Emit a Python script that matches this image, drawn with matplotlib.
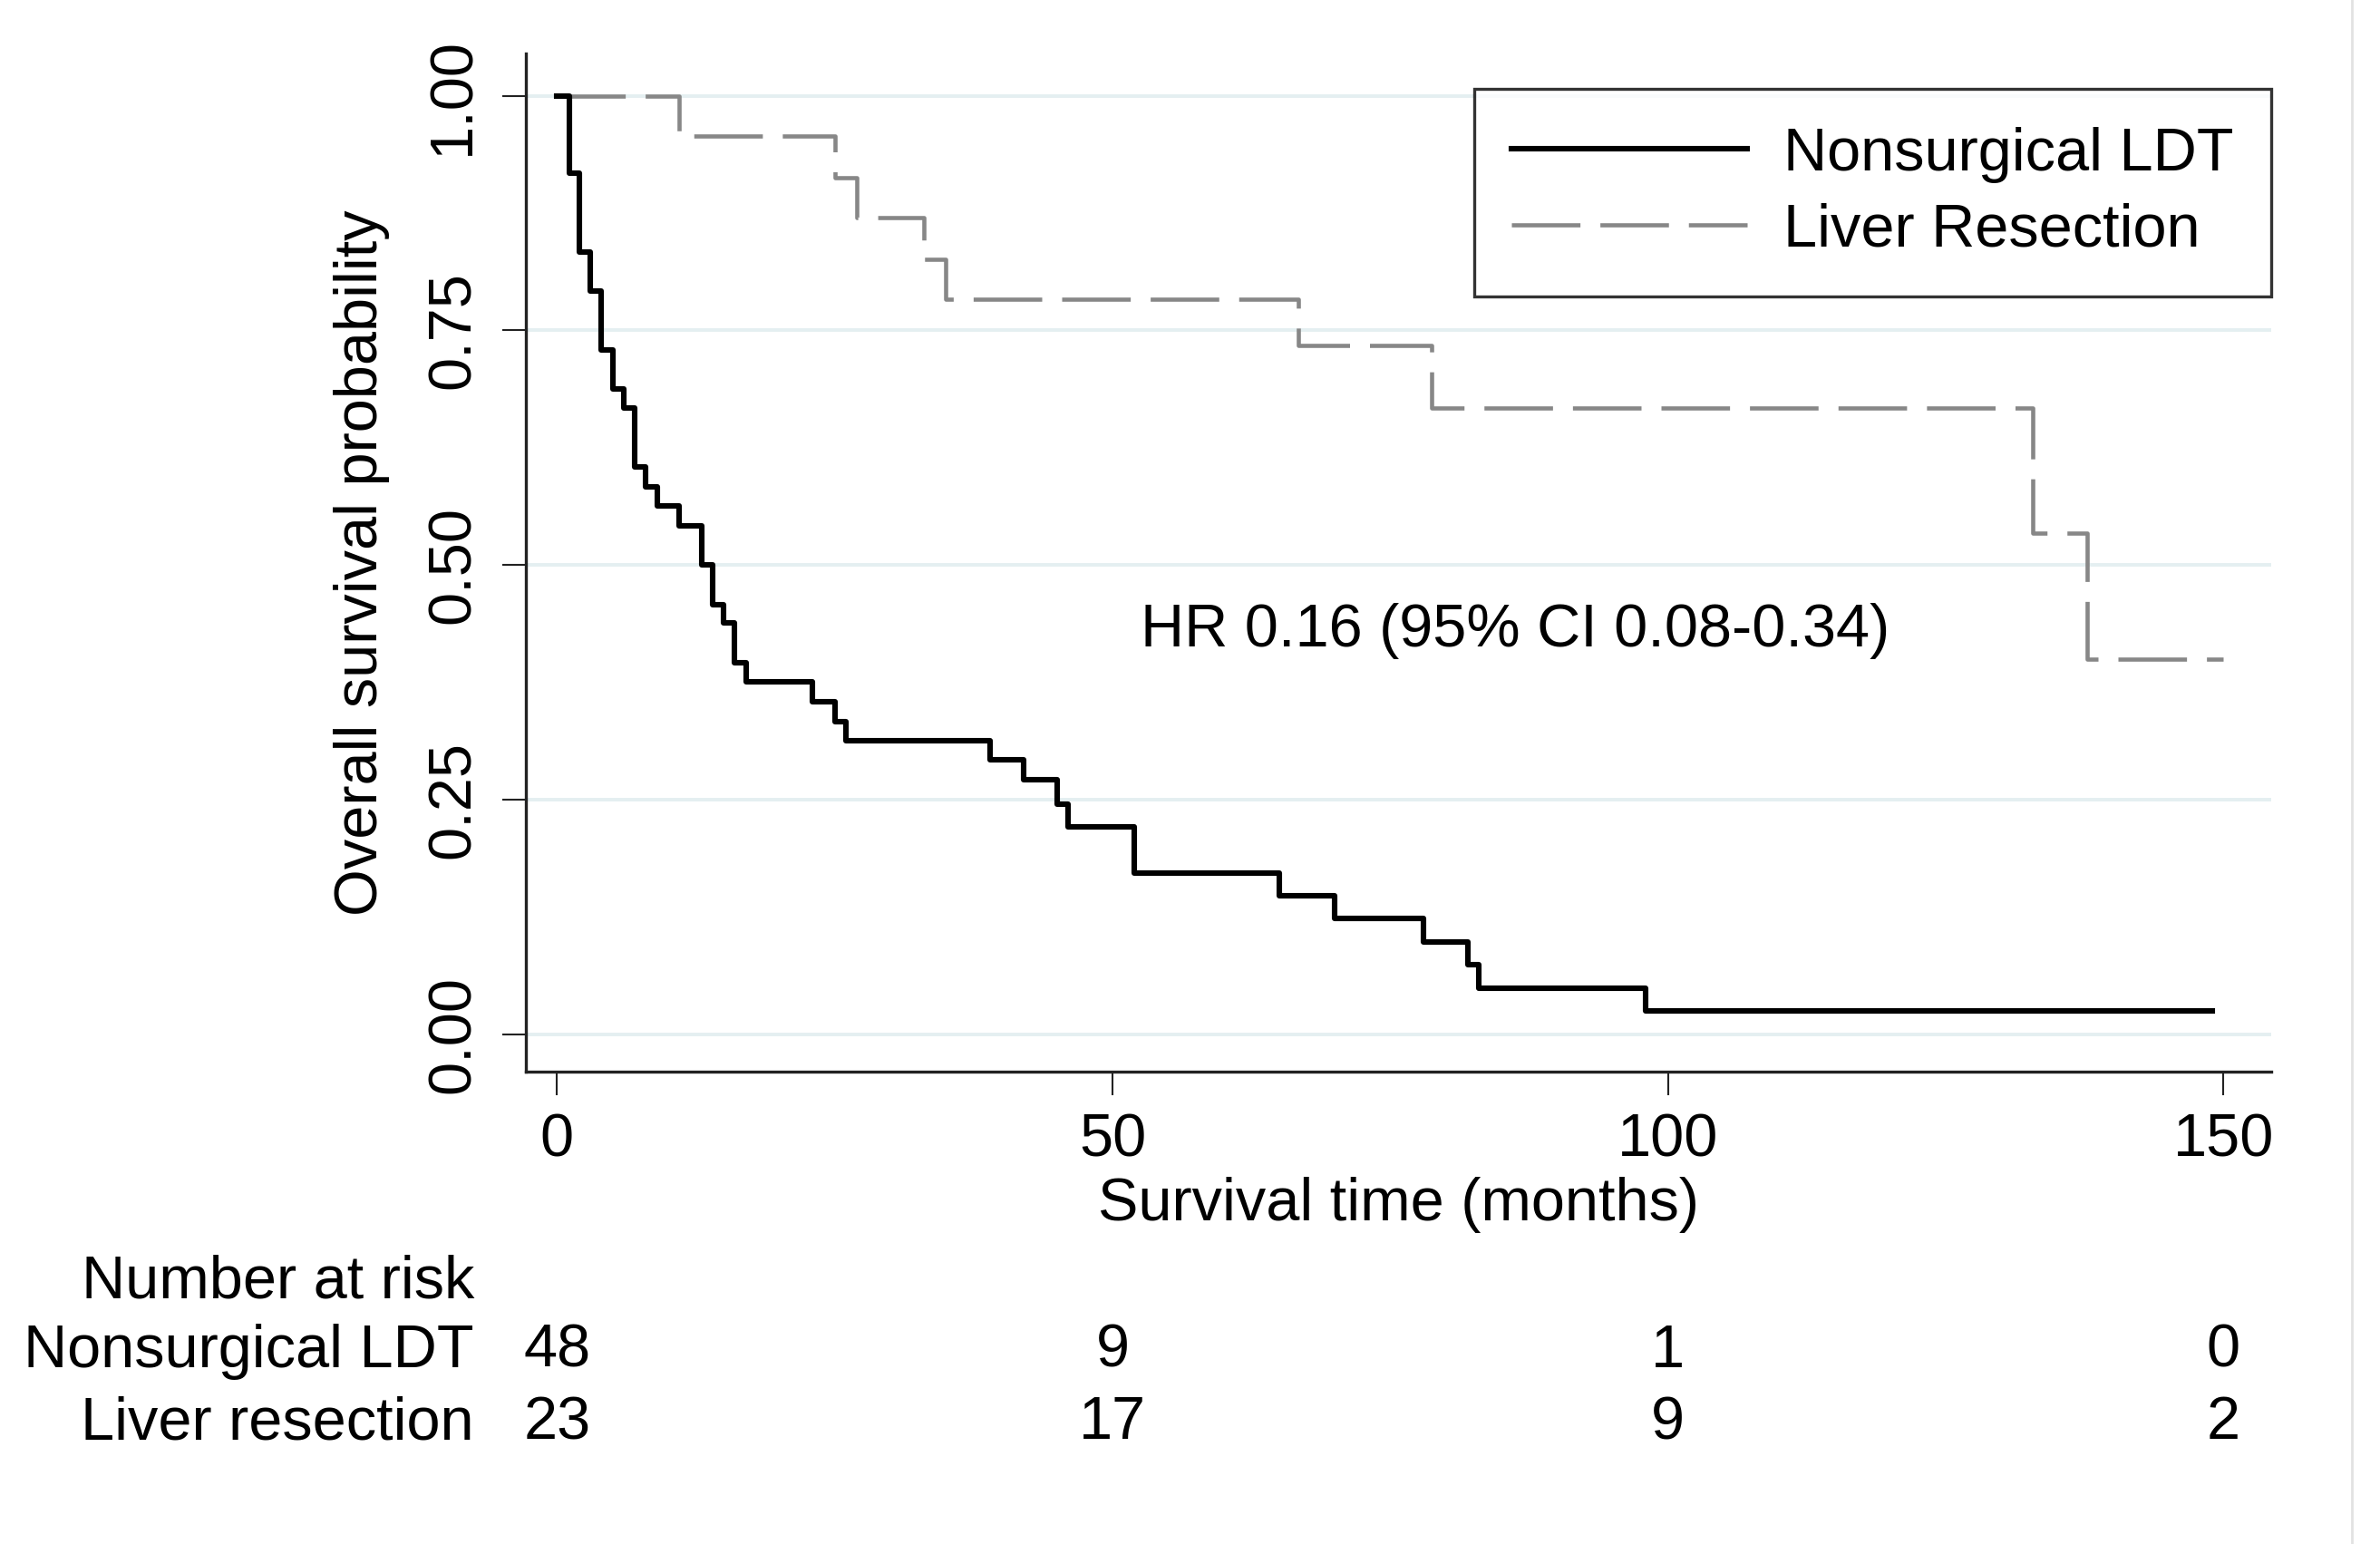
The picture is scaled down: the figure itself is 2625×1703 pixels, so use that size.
import matplotlib
matplotlib.use("Agg")
import matplotlib.pyplot as plt
from matplotlib import transforms
from matplotlib.lines import Line2D

plt.rcParams['font.family'] = ['Liberation Sans', 'DejaVu Sans']

# Kaplan-Meier steps
ldt_time = [0, 1.1, 2, 3, 4, 5, 6, 7, 8, 9, 11, 13, 14, 15, 16, 17, 23, 25, 26,
            39, 42, 45, 46, 52, 65, 70, 78, 82, 83, 98, 149]
ldt_surv = [1.0, 0.917, 0.833, 0.792, 0.729, 0.688, 0.667, 0.604, 0.583, 0.563,
            0.542, 0.500, 0.458, 0.438, 0.396, 0.375, 0.354, 0.333, 0.313,
            0.292, 0.271, 0.245, 0.221, 0.172, 0.147, 0.123, 0.098, 0.074,
            0.049, 0.025, 0.025]

res_time = [0, 11, 25, 27, 33, 35, 66.7, 78.7, 132.8, 137.7, 150]
res_surv = [1.0, 0.957, 0.913, 0.870, 0.826, 0.783, 0.734, 0.667, 0.534, 0.400, 0.400]

risk_times = [0, 50, 100, 150]
risk_ldt = [48, 9, 1, 0]
risk_res = [23, 17, 9, 2]
group_labels = ["Nonsurgical LDT", "Liver resection"]
legend_labels = ["Nonsurgical LDT", "Liver Resection"]
yticks = [0, 0.25, 0.5, 0.75, 1.0]
xticks = [0, 50, 100, 150]

FS = 48
W, H = 2625, 1703
fig = plt.figure(figsize=(W / 100, H / 100), dpi=100)
ax = fig.add_axes([580 / W, 1 - 1182 / H, (2505 - 580) / W, (1182 - 59) / H])

for y in yticks:
    ax.axhline(y, color='#e4eff1', lw=2.8, zorder=0)

ax.step(ldt_time, ldt_surv, where='post', color='black', lw=4.4,
        label=legend_labels[0], zorder=3)
ax.step(res_time, res_surv, where='post', color='#878787', lw=3.3,
        dashes=(16.5, 4.8), label=legend_labels[1], zorder=2)

ax.set_xlim(-2.8, 154.3)
ax.set_ylim(-0.04, 1.045)
ax.spines['top'].set_visible(False)
ax.spines['right'].set_visible(False)
for s in ['left', 'bottom']:
    ax.spines[s].set_linewidth(2.4)
    ax.spines[s].set_color('#222222')

ax.set_xticks(xticks)
ax.set_xticklabels([str(t) for t in xticks], fontsize=FS)
ax.set_yticks(yticks)
ax.set_yticklabels([f"{y:.2f}" for y in yticks], fontsize=FS, rotation=90, va='center')
ax.tick_params(axis='both', direction='out', length=19, width=1.5, color='#222222')
ax.tick_params(axis='x', pad=14)
ax.tick_params(axis='y', pad=16)

ax.set_xlabel("Survival time (months)", fontsize=FS, labelpad=6)
ax.set_ylabel("Overall survival probability", fontsize=FS, labelpad=28)

ax.text(52.5, 0.43, "HR 0.16 (95% CI 0.08-0.34)", fontsize=FS, va='center', ha='left')

leg = ax.legend(loc='upper right', bbox_to_anchor=(1.0, 0.965), fontsize=FS,
                frameon=True, fancybox=False, edgecolor='black',
                handlelength=3.9, handletextpad=0.6, borderpad=0.62,
                labelspacing=0.33, borderaxespad=0)
leg.get_frame().set_linewidth(2.4)

# number at risk table
blend = transforms.blended_transform_factory(ax.transData, fig.transFigure)
rows_y = [1 - 1508 / H, 1 - 1587 / H]
fig.text(523 / W, 1 - 1432 / H, "Number at risk", fontsize=FS, ha='right', va='baseline')
for label, counts, yy in zip(group_labels, [risk_ldt, risk_res], rows_y):
    fig.text(523 / W, yy, label, fontsize=FS, ha='right', va='baseline')
    for t, c in zip(risk_times, counts):
        ax.text(t, yy, str(c), fontsize=FS, ha='center', va='baseline',
                transform=blend, clip_on=False)

# faint frame line at right edge
fig.add_artist(Line2D([2594 / W, 2594 / W], [0, 1], color='#e2e2e2', lw=2,
                      transform=fig.transFigure))

fig.savefig("out.png", dpi=100, facecolor='white')
